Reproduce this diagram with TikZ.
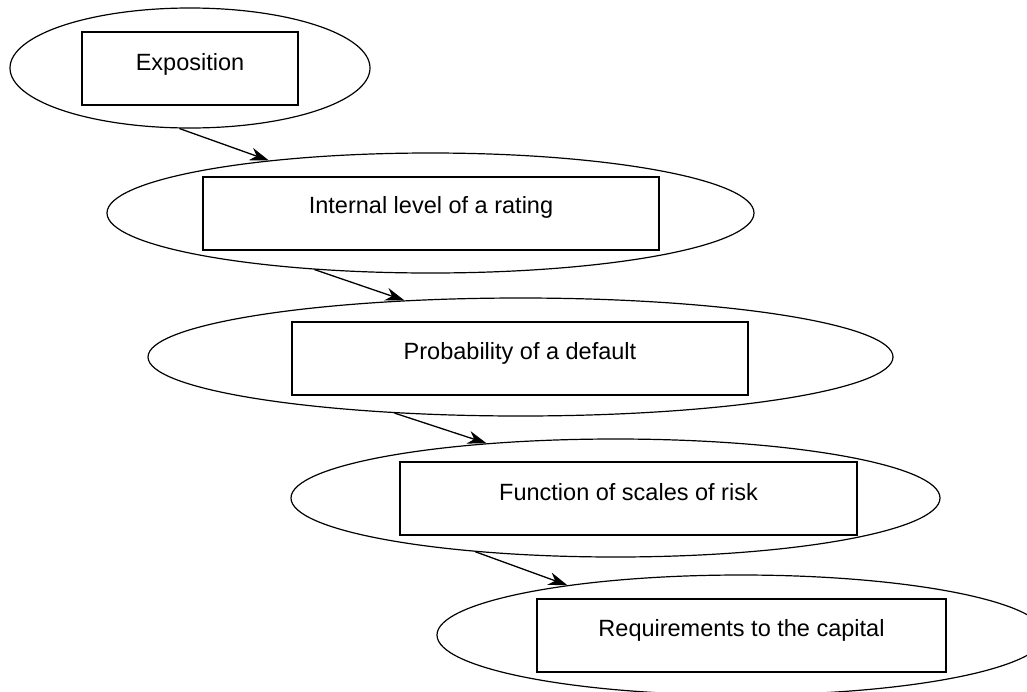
\documentclass[tikz,border=0pt]{standalone}
\usepackage{fontspec}
\setmainfont{Liberation Sans}
\usetikzlibrary{shapes.geometric,arrows.meta}

\tikzset{
  oval/.style={draw=black, line width=1.2pt, ellipse, inner sep=0pt},
  stepbox/.style={draw=black, line width=2pt, rectangle, inner sep=0pt, minimum height=73pt},
  steptext/.style={anchor=base, inner sep=0pt, font=\fontsize{23.5}{28}\selectfont},
  flow/.style={draw=black, line width=1.3pt, -{Stealth[length=19pt, width=13pt, inset=6pt]}}
}

\begin{document}
\begin{tikzpicture}[x=1pt, y=-1pt]
  \useasboundingbox (0,0) rectangle (1027,691);
  \clip (0,0) rectangle (1027,691);

  % outer ovals
  \node[oval, minimum width=360pt, minimum height=120pt] (e1) at (190,68) {};
  \node[oval, minimum width=647pt, minimum height=120pt] (e2) at (430.5,213) {};
  \node[oval, minimum width=745pt, minimum height=118pt] (e3) at (520.5,357) {};
  \node[oval, minimum width=649pt, minimum height=118pt] (e4) at (615.5,498) {};
  \node[oval, minimum width=608pt, minimum height=120pt] (e5) at (741,635) {};

  % inner boxes
  \node[stepbox, minimum width=216pt] (b1) at (190,68.5) {};
  \node[stepbox, minimum width=456pt] (b2) at (431,213) {};
  \node[stepbox, minimum width=456pt] (b3) at (520,358) {};
  \node[stepbox, minimum width=457pt] (b4) at (628.5,498.5) {};
  \node[stepbox, minimum width=409pt] (b5) at (741.5,635) {};

  % captions, set in the upper part of each box
  \node[steptext] (t1) at ([yshift=-39pt]b1.north) {Exposition};
  \node[steptext] (t2) at ([yshift=-38pt]b2.north) {Internal level of a rating};
  \node[steptext] (t3) at ([yshift=-39pt]b3.north) {Probability of a default};
  \node[steptext] (t4) at ([yshift=-39pt]b4.north) {Function of scales of risk};
  \node[steptext] (t5) at ([yshift=-39pt]b5.north) {Requirements to the capital};

  % connectors between consecutive ovals
  \draw[flow] (e1.260.5) -- (e2.162.4);
  \draw[flow] (e2.206.3) -- (e3.154.1);
  \draw[flow] (e3.204.85) -- (e4.157.1);
  \draw[flow] (e4.201.8) -- (e5.164.1);
\end{tikzpicture}
\end{document}
